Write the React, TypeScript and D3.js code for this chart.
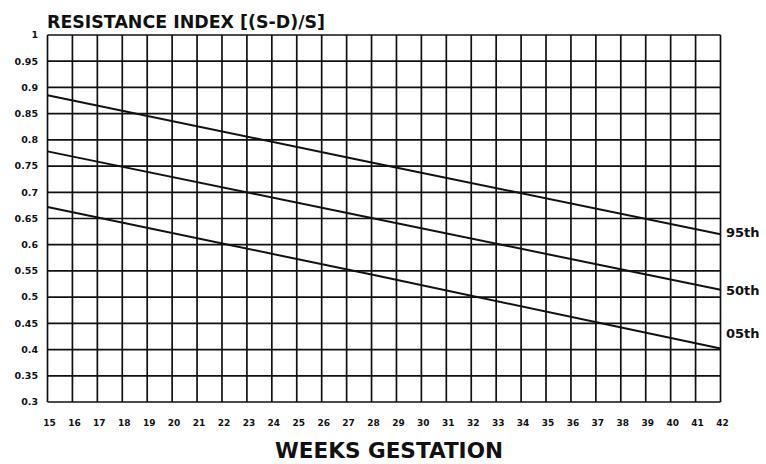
import * as d3 from "d3";

// weeks of gestation shown on the x axis
const weeks = d3.range(15, 43);
// resistance index ticks
const riTicks = [0.3, 0.35, 0.4, 0.45, 0.5, 0.55, 0.6, 0.65, 0.7, 0.75, 0.8, 0.85, 0.9, 0.95, 1];

// percentile curves
const p95 = [
  { week: 15, ri: 0.885 },
  { week: 28, ri: 0.757 },
  { week: 42, ri: 0.62 },
];
const p50 = [
  { week: 15, ri: 0.778 },
  { week: 28, ri: 0.651 },
  { week: 42, ri: 0.514 },
];
const p05 = [
  { week: 15, ri: 0.672 },
  { week: 28, ri: 0.543 },
  { week: 42, ri: 0.402 },
];

const series = [
  { name: "95th", values: p95, labelY: 0.624 },
  { name: "50th", values: p50, labelY: 0.512 },
  { name: "05th", values: p05, labelY: 0.43 },
];

const W = 766;
const H = 464;
const left = 47.5;
const right = 720.5;
const top = 35;
const bottom = 402;

export default function App() {
  const x = d3.scaleLinear([15, 42], [left, right]);
  const y = d3.scaleLinear([0.3, 1], [bottom, top]);
  const line = d3
    .line<{ week: number; ri: number }>()
    .x((d) => x(d.week))
    .y((d) => y(d.ri));

  const font = "'DejaVu Sans', Verdana, sans-serif";

  return (
    <svg
      width={W}
      height={H}
      style={{ position: "absolute", left: 0, top: 0, background: "#fff" }}
      fontFamily={font}
    >
      <rect width={W} height={H} fill="#fff" />
      <g stroke="#111" strokeWidth={1.7}>
        {weeks.map((w) => (
          <line key={w} x1={x(w)} x2={x(w)} y1={top} y2={bottom} />
        ))}
        {riTicks.map((t) => (
          <line key={t} x1={left} x2={right} y1={y(t)} y2={y(t)} />
        ))}
      </g>
      <g fill="none" stroke="#111" strokeWidth={2}>
        {series.map((s) => (
          <path key={s.name} d={line(s.values) ?? ""} />
        ))}
      </g>
      <g fontSize={9.5} fontWeight="bold" fill="#111" textAnchor="end">
        {riTicks.map((t) => (
          <text key={t} x={38} y={y(t)} dy="0.35em">
            {String(t)}
          </text>
        ))}
      </g>
      <g fontSize={9} fontWeight="bold" fill="#111" textAnchor="middle">
        {weeks.map((w) => (
          <text key={w} x={x(w) + 2} y={426}>
            {w}
          </text>
        ))}
      </g>
      <g fontSize={13} fontWeight="bold" fill="#111">
        {series.map((s) => (
          <text key={s.name} x={726} y={y(s.labelY)} dy="0.35em">
            {s.name}
          </text>
        ))}
      </g>
      <text
        x={47}
        y={28}
        fontSize={17.5}
        fontWeight="bold"
        fill="#111"
        textLength={278}
        lengthAdjust="spacingAndGlyphs"
      >
        RESISTANCE INDEX [(S-D)/S]
      </text>
      <text
        x={275}
        y={458}
        fontSize={21}
        fontWeight="bold"
        fill="#111"
        textLength={228}
        lengthAdjust="spacingAndGlyphs"
      >
        WEEKS GESTATION
      </text>
    </svg>
  );
}
